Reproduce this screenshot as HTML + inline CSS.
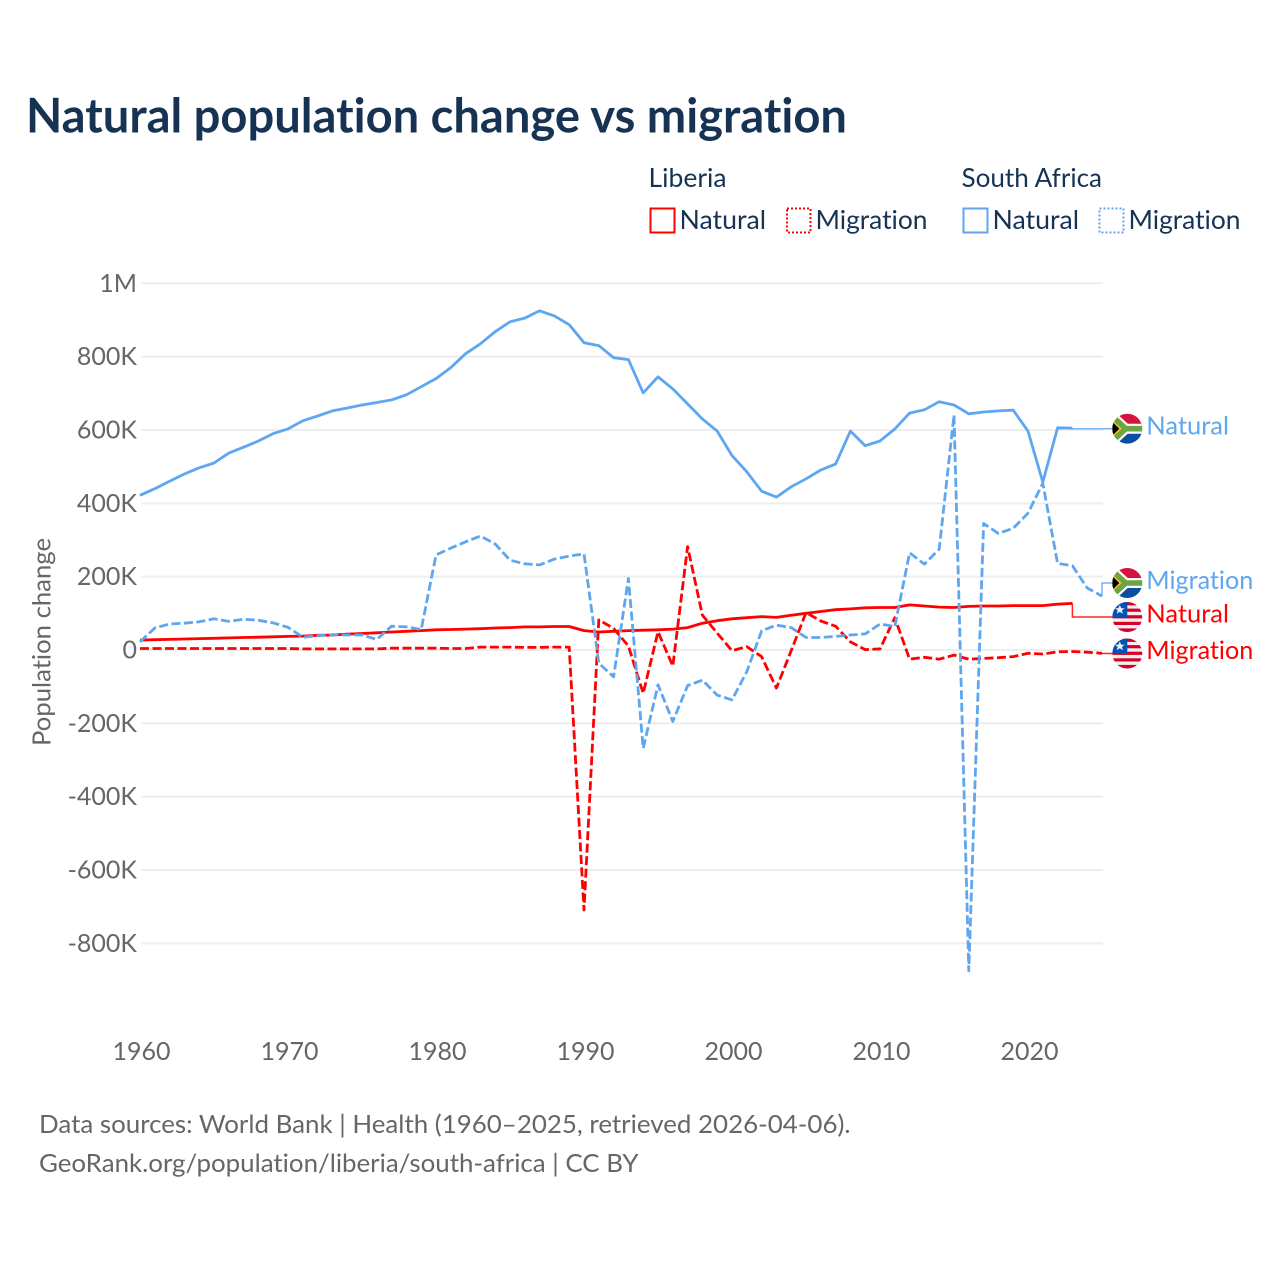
<!DOCTYPE html>
<html lang="en">
<head>
<meta charset="utf-8">
<title>Natural population change vs migration</title>
<style>
html,body{margin:0;padding:0;background:#fff;}
svg{display:block;}
text{font-family:"Lato","Carlito","Liberation Sans",sans-serif;font-variant-ligatures:none;}
</style>
</head>
<body>
<svg id="chart" xmlns="http://www.w3.org/2000/svg" width="1280" height="1280" viewBox="0 0 1280 1280">
  <defs>
    <clipPath id="flag-clip"><circle cx="0" cy="0" r="15"/></clipPath>
    <g id="flag-za">
      <g clip-path="url(#flag-clip)">
        <rect x="-15" y="-15" width="30" height="15" fill="#d8123f"/>
        <rect x="-15" y="0" width="30" height="15" fill="#0b4ea2"/>
        <path d="M-20,-17 L-1.5,0 L16,0 M-20,17 L-1.5,0" fill="none" stroke="#fff" stroke-width="10"/>
        <path d="M-15,-11 L-4,0 L-15,11 Z" fill="#ffc220"/>
        <path d="M-15,-7 L-8,0 L-15,7 Z" fill="#000"/>
        <path d="M-20,-17 L-1.5,0 L16,0 M-20,17 L-1.5,0" fill="none" stroke="#6da544" stroke-width="5.6"/>
        <path d="M-15,-6 L-8.6,0 L-15,6 Z" fill="#000"/>
      </g>
    </g>
    <g id="flag-lr">
      <g clip-path="url(#flag-clip)">
        <rect x="-15" y="-15" width="30" height="30" fill="#f0f0f0"/>
        <rect x="-15" y="-15" width="30" height="3.4" fill="#d80027"/>
        <rect x="-15" y="-8.4" width="30" height="3.2" fill="#d80027"/>
        <rect x="-15" y="-1.8" width="30" height="3.2" fill="#d80027"/>
        <rect x="-15" y="4.8" width="30" height="3.2" fill="#d80027"/>
        <rect x="-15" y="11.4" width="30" height="3.6" fill="#d80027"/>
        <rect x="-15" y="-15" width="15" height="15" fill="#0052b4"/>
        <path d="M-7.5,-12 L-6,-8.7 L-2.6,-8.7 L-5.4,-6.6 L-4.4,-3.2 L-7.5,-5.2 L-10.6,-3.2 L-9.6,-6.6 L-12.4,-8.7 L-9,-8.7 Z" fill="#f0f0f0"/>
      </g>
    </g>
  </defs>

  <text x="26" y="132.5" font-size="48" font-weight="700" fill="#163354" textLength="821" lengthAdjust="spacingAndGlyphs">Natural population change vs migration</text>

  <g font-size="26.4" fill="#163354">
    <text x="648.5" y="187" textLength="78" lengthAdjust="spacingAndGlyphs">Liberia</text>
    <text x="961.5" y="187" textLength="140.5" lengthAdjust="spacingAndGlyphs">South Africa</text>
    <g>
      <rect x="650.5" y="208.5" width="24" height="24" fill="none" stroke="#ff0000" stroke-width="2"/>
      <text x="679.5" y="229" textLength="86.5" lengthAdjust="spacingAndGlyphs">Natural</text>
    </g>
    <g>
      <rect x="787" y="208.5" width="23.5" height="24" fill="none" stroke="#ff0000" stroke-width="2" stroke-dasharray="2 2"/>
      <text x="815.5" y="229" textLength="112" lengthAdjust="spacingAndGlyphs">Migration</text>
    </g>
    <g>
      <rect x="963.5" y="208.5" width="24" height="24" fill="none" stroke="#5ea6ef" stroke-width="2"/>
      <text x="992.5" y="229" textLength="86.5" lengthAdjust="spacingAndGlyphs">Natural</text>
    </g>
    <g>
      <rect x="1099.5" y="208.5" width="24" height="24" fill="none" stroke="#5ea6ef" stroke-width="2" stroke-dasharray="2 2"/>
      <text x="1128.5" y="229" textLength="112" lengthAdjust="spacingAndGlyphs">Migration</text>
    </g>
  </g>

  <g id="grid"></g>
  <g id="y-ticks"></g>
  <g id="x-ticks"></g>
  <text transform="translate(50.5,642) rotate(-90)" text-anchor="middle" font-size="25.6" fill="#666666" textLength="208" lengthAdjust="spacingAndGlyphs">Population change</text>
  <g id="connectors"></g>
  <g id="series"></g>
  <g id="end-labels"></g>

  <text x="39" y="1133" font-size="25.6" fill="#666666" textLength="811.5" lengthAdjust="spacingAndGlyphs">Data sources: World Bank | Health (1960–2025, retrieved 2026-04-06).</text>
  <text x="39" y="1172" font-size="25.6" fill="#666666" textLength="599.5" lengthAdjust="spacingAndGlyphs">GeoRank.org/population/liberia/south-africa | CC BY</text>
</svg>

<script>
const startYear = 1960;
const yTickValues = [1000, 800, 600, 400, 200, 0, -200, -400, -600, -800];
const yTickLabels = ["1M", "800K", "600K", "400K", "200K", "0", "-200K", "-400K", "-600K", "-800K"];
const xTickYears = [1960, 1970, 1980, 1990, 2000, 2010, 2020];

// Values in thousands of people, one per year from 1960.
const southAfricaNatural = [422,440,460,480,497,510,537,553,570,590,603,625,638,652,660,668,675,682,696,718,740,770,808,835,868,895,905,925,911,887,838,830,797,792,701,745,712,671,630,597,530,486,433,417,445,467,491,507,597,557,570,603,646,655,677,668,644,649,652,654,597,458,606,605];
const southAfricaMigration = [22,60,71,73,77,85,78,84,81,74,62,35,39,42,41,41,29,65,63,56,259,278,295,311,289,245,235,232,248,256,262,-36,-73,195,-268,-95,-195,-97,-82,-123,-136,-59,52,68,61,34,34,37,41,44,71,64,265,234,275,641,-875,345,318,332,373,455,236,230,169,147];
const liberiaNatural = [27,28,29,30,31,32,33,34,35,36,37,38,40,41,43,45,47,49,51,53,55,56,57,58,60,61,63,63,64,64,53,49,51,53,54,55,57,61,73,80,85,88,91,89,95,100,105,110,112,115,116,116,123,120,117,116,119,120,120,121,121,121,125,127];
const liberiaMigration = [4,4,4,4,4,4,4,4,4,4,4,3,3,3,3,3,3,5,5,5,5,4,4,8,8,8,7,7,8,8,-709,82,59,11,-118,50,-44,282,95,46,-2,9,-18,-104,-2,102,79,65,22,1,3,88,-25,-20,-25,-14,-25,-23,-21,-18,-9,-11,-5,-4,-6,-9];

const blue = "#5ea6ef";
const red = "#ff0000";
const svgNS = "http://www.w3.org/2000/svg";

function xScale(year) { return 140 + (year - startYear) * 14.8; }
function yScale(value) { return 650 - value * 0.3667; }

function make(tag, attrs, parent, text) {
  const el = document.createElementNS(svgNS, tag);
  for (const key in attrs) el.setAttribute(key, attrs[key]);
  if (text !== undefined) el.textContent = text;
  parent.appendChild(el);
  return el;
}

const grid = document.getElementById("grid");
const yTicks = document.getElementById("y-ticks");
yTickValues.forEach(function (value, i) {
  const y = yScale(value);
  const line = make("line", { x1: 141, x2: 1103, y1: y, y2: y, stroke: "#eeeeee", "stroke-width": 2 }, grid);
  
  
  const label = make("text", { x: 137, y: y + 8.5, "text-anchor": "end", "font-size": 25, fill: "#666666" }, yTicks, yTickLabels[i]);
  
  
});

const xTicks = document.getElementById("x-ticks");
xTickYears.forEach(function (year) {
  const label = make("text", { x: xScale(year) + 1.5, y: 1060, "text-anchor": "middle", "font-size": 25, fill: "#666666" }, xTicks, String(year));
  
  
});

function pointsFor(values) {
  return values.map(function (value, i) {
    return xScale(startYear + i).toFixed(1) + "," + yScale(value).toFixed(1);
  }).join(" ");
}

const seriesGroup = document.getElementById("series");
function drawSeries(values, color, dashed, name) {
  const attrs = { points: pointsFor(values), fill: "none", stroke: color, "stroke-width": 2.8, "stroke-linejoin": "round" };
  if (dashed) attrs["stroke-dasharray"] = "9 3.5";
  const line = make("polyline", attrs, seriesGroup);
  
  
}
drawSeries(liberiaNatural, red, false, 'liberia-natural-line');
drawSeries(liberiaMigration, red, true, 'liberia-migration-line');
drawSeries(southAfricaNatural, blue, false, 'south-africa-natural-line');
drawSeries(southAfricaMigration, blue, true, 'south-africa-migration-line');

const connectors = document.getElementById("connectors");
const endLabels = document.getElementById("end-labels");
function drawEnd(values, color, flagId, centerY, baseline, text, width, name) {
  const lastIndex = values.length - 1;
  const x = xScale(startYear + lastIndex);
  const y = yScale(values[lastIndex]);
  const path = "M" + x + "," + y + " L" + x + "," + centerY + " L1113," + centerY;
  const conn = make("path", { d: path, fill: "none", stroke: color, "stroke-width": 1.5, opacity: 0.85 }, connectors);
  
  
  const flag = make("use", { href: "#" + flagId, x: 1127.3, y: centerY }, endLabels);
  
  
  const label = make("text", { x: 1146.3, y: baseline, "font-size": 25.6, fill: color, textLength: width, lengthAdjust: "spacingAndGlyphs" }, endLabels, text);
  
  
}
drawEnd(southAfricaNatural, blue, "flag-za", 428.7, 434.5, "Natural", 82.7, 'south-africa-natural');
drawEnd(southAfricaMigration, blue, "flag-za", 583, 589, "Migration", 107, 'south-africa-migration');
drawEnd(liberiaNatural, red, "flag-lr", 617, 622.5, "Natural", 82.7, 'liberia-natural');
drawEnd(liberiaMigration, red, "flag-lr", 653.5, 659, "Migration", 107, 'liberia-migration');
</script>
</body>
</html>
